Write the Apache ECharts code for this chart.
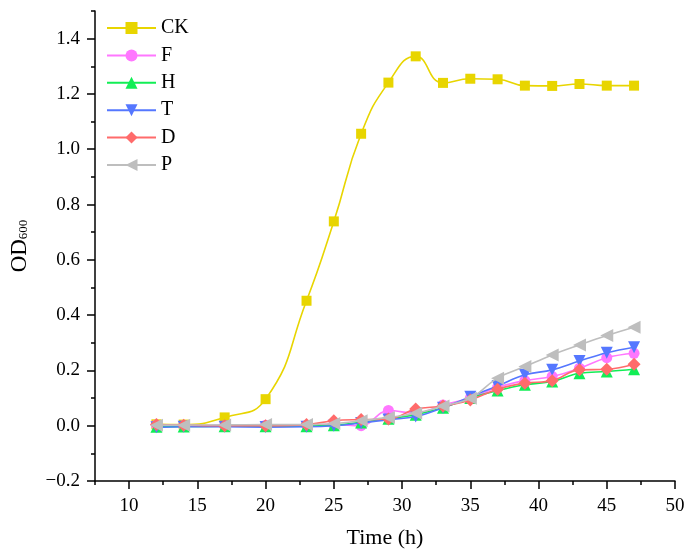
<!DOCTYPE html>
<html>
<head>
<meta charset="utf-8">
<script src="https://cdn.jsdelivr.net/npm/echarts@6/dist/echarts.min.js"></script>
<style>html,body{margin:0;padding:0;background:#fff;}#c{width:692px;height:558px;}</style>
</head>
<body>
<div id="c"></div>
<script>
const times = [12, 14, 17, 20, 23, 25, 27, 29, 31, 33, 35, 37, 39, 41, 43, 45, 47];
const seriesNames = ['CK', 'F', 'H', 'T', 'D', 'P'];
const CK = [0.005, 0.004, 0.030, 0.096, 0.452, 0.739, 1.056, 1.241, 1.336, 1.240, 1.255, 1.253, 1.230, 1.229, 1.236, 1.230, 1.230];
const F  = [0.003, 0.001, 0.000, 0.002, 0.002, 0.004, 0.000, 0.055, 0.045, 0.075, 0.100, 0.139, 0.163, 0.178, 0.208, 0.246, 0.262];
const H  = [-0.004, -0.003, -0.002, -0.002, -0.002, 0.002, 0.012, 0.025, 0.040, 0.065, 0.100, 0.127, 0.148, 0.160, 0.190, 0.196, 0.204];
const T  = [-0.006, -0.004, -0.004, -0.005, -0.004, 0.000, 0.010, 0.022, 0.033, 0.065, 0.105, 0.144, 0.184, 0.202, 0.234, 0.264, 0.284];
const D  = [0.004, 0.002, 0.000, 0.000, 0.004, 0.018, 0.022, 0.024, 0.060, 0.071, 0.093, 0.132, 0.154, 0.163, 0.202, 0.204, 0.222];
const P  = [0.002, 0.002, 0.003, 0.004, 0.004, 0.008, 0.018, 0.030, 0.045, 0.071, 0.099, 0.172, 0.214, 0.256, 0.292, 0.326, 0.356];
const xMajorTicks = [10, 15, 20, 25, 30, 35, 40, 45, 50];
const xMinorTicks = [7.5, 12.5, 17.5, 22.5, 27.5, 32.5, 37.5, 42.5, 47.5];
const yMajorTicks = [-0.2, 0, 0.2, 0.4, 0.6, 0.8, 1.0, 1.2, 1.4];
const yMinorTicks = [-0.1, 0.1, 0.3, 0.5, 0.7, 0.9, 1.1, 1.3, 1.5];

const values = [CK, F, H, T, D, P];
const colors = ['#E8D500', '#FF77FF', '#11EE55', '#5577FF', '#FF6B6B', '#BEBEBE'];
const symbols = ['rect', 'circle', 'triangle', 'triangle', 'diamond', 'triangle'];
const rotates = [0, 0, 0, 180, 0, 90];
const sizes = [10, 11, 12, 12, 13, 13];

const FONT = '"Liberation Serif", "DejaVu Serif", serif';

const chart = echarts.init(document.getElementById('c'), null, {renderer: 'canvas'});

const series = seriesNames.map((n, i) => ({
  name: n,
  type: 'line',
  xAxisIndex: 0,
  yAxisIndex: 0,
  data: times.map((t, j) => [t, values[i][j]]),
  smooth: i === 0 ? 0.5 : 0.4,
  symbol: symbols[i],
  symbolRotate: rotates[i],
  symbolSize: sizes[i],
  showAllSymbol: true,
  lineStyle: {color: colors[i], width: 1.6},
  itemStyle: {color: colors[i]},
  z: 2 + i
}));

const axisLineStyle = {color: '#000', width: 1.5};

chart.setOption({
  animation: false,
  backgroundColor: '#fff',
  grid: {left: 94, right: 17, top: 11, bottom: 77, containLabel: false},
  legend: {
    data: seriesNames,
    orient: 'vertical',
    left: 101,
    top: 13,
    itemWidth: 49,
    itemHeight: 15,
    itemGap: 7.4,
    textStyle: {fontFamily: FONT, fontSize: 20, color: '#000', lineHeight: 20}
  },
  xAxis: [{
    type: 'value',
    min: 7.5, max: 50,
    name: 'Time (h)',
    nameLocation: 'middle',
    nameGap: 46,
    nameTextStyle: {fontFamily: FONT, fontSize: 22, color: '#000'},
    axisLine: {show: true, onZero: false, lineStyle: axisLineStyle},
    axisTick: {show: true, inside: false, length: 8, lineStyle: axisLineStyle, customValues: xMajorTicks},
    axisLabel: {show: true, margin: 16, fontFamily: FONT, fontSize: 19, color: '#000', customValues: xMajorTicks},
    splitLine: {show: false}
  }, {
    type: 'value',
    min: 7.5, max: 50,
    position: 'bottom',
    axisLine: {show: false, onZero: false},
    axisTick: {show: true, inside: false, length: 4, lineStyle: axisLineStyle, customValues: xMinorTicks},
    axisLabel: {show: false},
    splitLine: {show: false}
  }],
  yAxis: [{
    type: 'value',
    min: -0.2, max: 1.5,
    name: '{a|OD}{b|600}',
    nameLocation: 'middle',
    nameGap: 64,
    nameRotate: 90,
    nameTextStyle: {
      rich: {
        a: {fontFamily: FONT, fontSize: 23, color: '#000'},
        b: {fontFamily: FONT, fontSize: 13, color: '#000', padding: [8, 0, 0, 0]}
      }
    },
    axisLine: {show: true, onZero: false, lineStyle: axisLineStyle},
    axisTick: {show: true, inside: false, length: 8, lineStyle: axisLineStyle, customValues: yMajorTicks},
    axisLabel: {
      show: true, margin: 15, fontFamily: FONT, fontSize: 19, color: '#000',
      customValues: yMajorTicks,
      formatter: v => (v < 0 ? '\u2212' : '') + Math.abs(v).toFixed(1)
    },
    splitLine: {show: false}
  }, {
    type: 'value',
    min: -0.2, max: 1.5,
    position: 'left',
    axisLine: {show: false, onZero: false},
    axisTick: {show: true, inside: false, length: 4, lineStyle: axisLineStyle, customValues: yMinorTicks},
    axisLabel: {show: false},
    splitLine: {show: false}
  }],
  series: series
});
</script>
</body>
</html>
